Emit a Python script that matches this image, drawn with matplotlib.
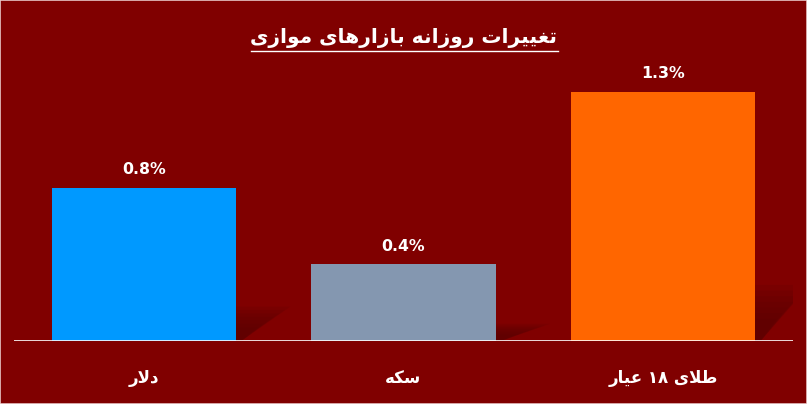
import unicodedata
import matplotlib
matplotlib.use("Agg")
import matplotlib.pyplot as plt
from matplotlib.patches import Polygon, Rectangle

# data
categories = ["دلار", "سکه", "طلای ۱۸ عیار"]
values = [0.8, 0.4, 1.3]
value_labels = ["0.8%", "0.4%", "1.3%"]
bar_colors = ["#0099FF", "#8497B0", "#FF6600"]
title = "تغییرات روزانه بازارهای موازی"

BG = "#800000"

# matplotlib does no arabic shaping, so pick presentation forms by hand
RIGHT_ONLY = set("اآأإدذرزژو")


def is_arabic(c):
    return "\u0600" <= c <= "\u06ff" and not ("\u06f0" <= c <= "\u06f9")


def form(c, prev_join, next_join):
    name = unicodedata.name(c)
    if prev_join and next_join:
        suf = " MEDIAL FORM"
    elif prev_join:
        suf = " FINAL FORM"
    elif next_join:
        suf = " INITIAL FORM"
    else:
        suf = " ISOLATED FORM"
    try:
        return unicodedata.lookup(name + suf)
    except KeyError:
        try:
            return unicodedata.lookup(name + " ISOLATED FORM")
        except KeyError:
            return c


def shape(text):
    out = []
    i = 0
    n = len(text)
    while i < n:
        c = text[i]
        if not is_arabic(c):
            out.append(c)
            i += 1
            continue
        prev = text[i - 1] if i > 0 else ""
        prev_join = bool(prev) and is_arabic(prev) and prev not in RIGHT_ONLY
        # lam + alef ligature
        if c == "ل" and i + 1 < n and text[i + 1] == "ا":
            if prev_join:
                out.append("\ufefc")
            else:
                out.append("\ufefb")
            i += 2
            continue
        nxt = text[i + 1] if i + 1 < n else ""
        next_join = c not in RIGHT_ONLY and bool(nxt) and is_arabic(nxt)
        out.append(form(c, prev_join, next_join))
        i += 1
    # visual order: reverse, but keep digit runs left to right
    runs = []
    for ch in out:
        if ch.isdigit() and runs and runs[-1][0].isdigit():
            runs[-1] += ch
        else:
            runs.append(ch)
    return "".join(runs[::-1])


plt.rcParams["font.family"] = ["DejaVu Sans"]

fig = plt.figure(figsize=(8.07, 4.04), dpi=100, facecolor=BG)
ax = fig.add_axes([14 / 807, 63 / 404, 779 / 807, 281 / 404])
ax.set_facecolor(BG)

x = list(range(len(values)))
width = 0.71

# soft perspective shadows behind bars
for xi, v in zip(x, values):
    left = xi - width / 2
    right = xi + width / 2
    dx = 0.21
    dy = 0.225 * v
    for k in range(7):
        f = 1 - k * 0.1
        shadow = Polygon([(left, 0), (right + 0.02, 0),
                          (right + dx * f, dy * f), (left + dx * f, dy * f)],
                         closed=True, facecolor="#550000", edgecolor="none",
                         alpha=0.14, zorder=1)
        ax.add_patch(shadow)

ax.bar(x, values, width=width, color=bar_colors, zorder=2)

for xi, v, lab in zip(x, values, value_labels):
    ax.text(xi, v + 0.095, lab, ha="center", va="center", color="white",
            fontsize=11.3, fontweight="bold")

ax.axhline(0, color="white", lw=1.2, zorder=3)

ax.set_xlim(-0.5, 2.5)
ax.set_ylim(0, 281 / 191.5)
ax.set_xticks(x)
ax.set_xticklabels([shape(c) for c in categories], color="white",
                   fontsize=12, fontweight="bold")
ax.tick_params(axis="x", length=0, pad=20)
ax.set_yticks([])
for s in ax.spines.values():
    s.set_visible(False)

t = fig.text(404 / 807, 1 - 38 / 404, shape(title), ha="center", va="center",
             color="white", fontsize=14.5, fontweight="bold")

# underline the title
fig.canvas.draw()
bb = t.get_window_extent().transformed(fig.transFigure.inverted())
fig.add_artist(plt.Line2D([bb.x0, bb.x1], [1 - 51 / 404, 1 - 51 / 404],
                          transform=fig.transFigure, color="white", lw=1.0))

fig.add_artist(Rectangle((0, 0), 1, 1, transform=fig.transFigure,
                         fill=False, edgecolor="#e8c8c8", lw=1.2))

fig.savefig("out.png", dpi=100, facecolor=BG)
